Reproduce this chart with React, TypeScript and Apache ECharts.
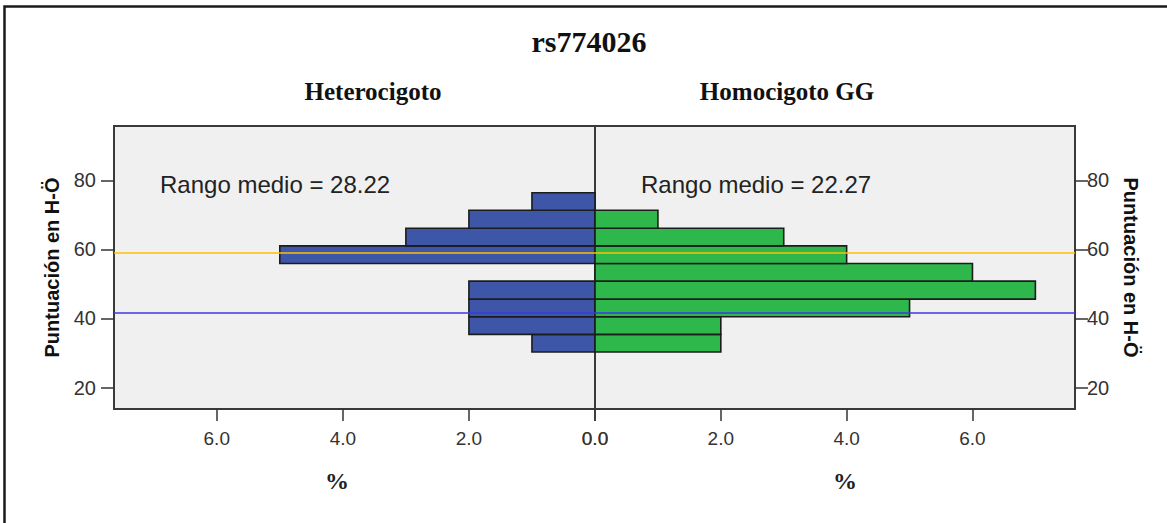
import React, { useEffect, useRef } from "react";
import * as echarts from "echarts";

const chartTitle = "rs774026";
const groupNames = ["Heterocigoto", "Homocigoto GG"];
const meanRankLabels = ["Rango medio = 28.22", "Rango medio = 22.27"];
const yAxisName = "Puntuación en H-Ö";
const xAxisName = "%";
// bin edges of the score (Puntuación en H-Ö), bottom to top
const binEdges = [30.3, 35.4, 40.5, 45.6, 50.8, 55.9, 61.0, 66.1, 71.3, 76.4];
// percentage per bin, bottom to top
const heteroPct = [1, 2, 2, 2, 0, 5, 3, 2, 1];
const homoPct = [2, 2, 5, 7, 6, 4, 3, 1, 0];
const yTicks = [20, 40, 60, 80];
const xTicks = [0, 2, 4, 6];
const yRange = [13.8, 95.7];
const xMax = 7.63;
const refLineValues = [58.9, 41.7];
const refLineColors = ["#ffc000", "#3a3ae6"];

const SANS = "'Liberation Sans', Arial, sans-serif";
const SERIF = "'Liberation Serif', 'Times New Roman', serif";

function buildData(values: number[]) {
  const out: number[][] = [];
  values.forEach((v, i) => {
    if (v > 0) out.push([binEdges[i], binEdges[i + 1], v]);
  });
  return out;
}

function renderBar(color: string) {
  return (params: any, api: any) => {
    const lo = api.value(0);
    const hi = api.value(1);
    const v = api.value(2);
    const p0 = api.coord([0, lo]);
    const p1 = api.coord([v, hi]);
    const x = Math.min(p0[0], p1[0]);
    const y = Math.min(p0[1], p1[1]);
    return {
      type: "rect",
      shape: { x, y, width: Math.abs(p1[0] - p0[0]), height: Math.abs(p1[1] - p0[1]) },
      style: { fill: color, stroke: "#1c1c1c", lineWidth: 1.6 },
    };
  };
}

function markLines() {
  return {
    silent: true,
    symbol: "none",
    label: { show: false },
    data: refLineValues.map((v, i) => ({
      yAxis: v,
      lineStyle: { color: refLineColors[i], width: 1.5, type: "solid" },
    })),
  };
}

export default function App() {
  const ref = useRef<HTMLDivElement>(null);
  useEffect(() => {
    document.body.style.margin = "0";
    const chart = echarts.init(ref.current!, null, { renderer: "svg" });
    const xAxisCommon = {
      type: "value",
      min: 0,
      max: xMax,
      axisLine: { show: false, onZero: false },
      splitLine: { show: false },
      axisTick: { show: true, length: 12, customValues: xTicks, lineStyle: { color: "#333", width: 1.5 } },
      axisLabel: {
        customValues: xTicks,
        margin: 20,
        fontSize: 19,
        fontFamily: SANS,
        color: "#333",
        formatter: (v: number) => v.toFixed(1),
      },
    };
    const yAxisCommon = {
      type: "value",
      min: yRange[0],
      max: yRange[1],
      axisLine: { show: false, onZero: false },
      splitLine: { show: false },
      name: yAxisName,
      nameLocation: "middle",
      nameTextStyle: { fontFamily: SANS, fontWeight: "bold", fontSize: 20, color: "#111" },
      axisTick: { show: true, length: 13, customValues: yTicks, lineStyle: { color: "#333", width: 1.5 } },
    };
    chart.setOption({
      animation: false,
      backgroundColor: "#ffffff",
      grid: [
        { left: 114, top: 126, width: 481, height: 283, show: true, backgroundColor: "#f0f0f0", borderColor: "#3a3a3a", borderWidth: 2 },
        { left: 595, top: 126, width: 480, height: 283, show: true, backgroundColor: "#f0f0f0", borderColor: "#3a3a3a", borderWidth: 2 },
      ],
      xAxis: [
        { ...xAxisCommon, gridIndex: 0, inverse: true },
        { ...xAxisCommon, gridIndex: 1 },
      ],
      yAxis: [
        {
          ...yAxisCommon,
          gridIndex: 0,
          position: "left",
          nameGap: 52,
          nameRotate: 90,
          axisLabel: { customValues: yTicks, margin: 18, fontSize: 20, fontFamily: SANS, color: "#333" },
        },
        {
          ...yAxisCommon,
          gridIndex: 1,
          position: "right",
          nameGap: 46,
          nameRotate: -90,
          axisLabel: { customValues: yTicks, margin: 12, fontSize: 20, fontFamily: SANS, color: "#333" },
        },
      ],
      series: [
        {
          name: groupNames[0],
          type: "custom",
          xAxisIndex: 0,
          yAxisIndex: 0,
          encode: { x: 2, y: [0, 1] },
          renderItem: renderBar("#3d56a8"),
          data: buildData(heteroPct),
          markLine: markLines(),
        },
        {
          name: groupNames[1],
          type: "custom",
          xAxisIndex: 1,
          yAxisIndex: 1,
          encode: { x: 2, y: [0, 1] },
          renderItem: renderBar("#2eb84b"),
          data: buildData(homoPct),
          markLine: markLines(),
        },
      ],
      graphic: [
        {
          type: "rect",
          silent: true,
          shape: { x: 4.5, y: 6.5, width: 1400, height: 700 },
          style: { fill: "none", stroke: "#1a1a1a", lineWidth: 2.5 },
        },
        {
          type: "text",
          x: 589,
          y: 41,
          style: { text: chartTitle, font: `bold 30px ${SERIF}`, fill: "#111", align: "center", verticalAlign: "middle" },
        },
        {
          type: "text",
          x: 373,
          y: 91,
          style: { text: groupNames[0], font: `bold 25px ${SERIF}`, fill: "#111", align: "center", verticalAlign: "middle" },
        },
        {
          type: "text",
          x: 787,
          y: 91,
          style: { text: groupNames[1], font: `bold 25px ${SERIF}`, fill: "#111", align: "center", verticalAlign: "middle" },
        },
        {
          type: "text",
          x: 160,
          y: 184,
          style: { text: meanRankLabels[0], font: `24px ${SANS}`, fill: "#222", align: "left", verticalAlign: "middle" },
        },
        {
          type: "text",
          x: 641,
          y: 184,
          style: { text: meanRankLabels[1], font: `24px ${SANS}`, fill: "#222", align: "left", verticalAlign: "middle" },
        },
        {
          type: "text",
          x: 337,
          y: 481,
          style: { text: xAxisName, font: `bold 24px ${SERIF}`, fill: "#222", align: "center", verticalAlign: "middle" },
        },
        {
          type: "text",
          x: 845,
          y: 481,
          style: { text: xAxisName, font: `bold 24px ${SERIF}`, fill: "#222", align: "center", verticalAlign: "middle" },
        },
      ],
    });
    return () => chart.dispose();
  }, []);
  return <div ref={ref} style={{ width: 1167, height: 523 }} />;
}
